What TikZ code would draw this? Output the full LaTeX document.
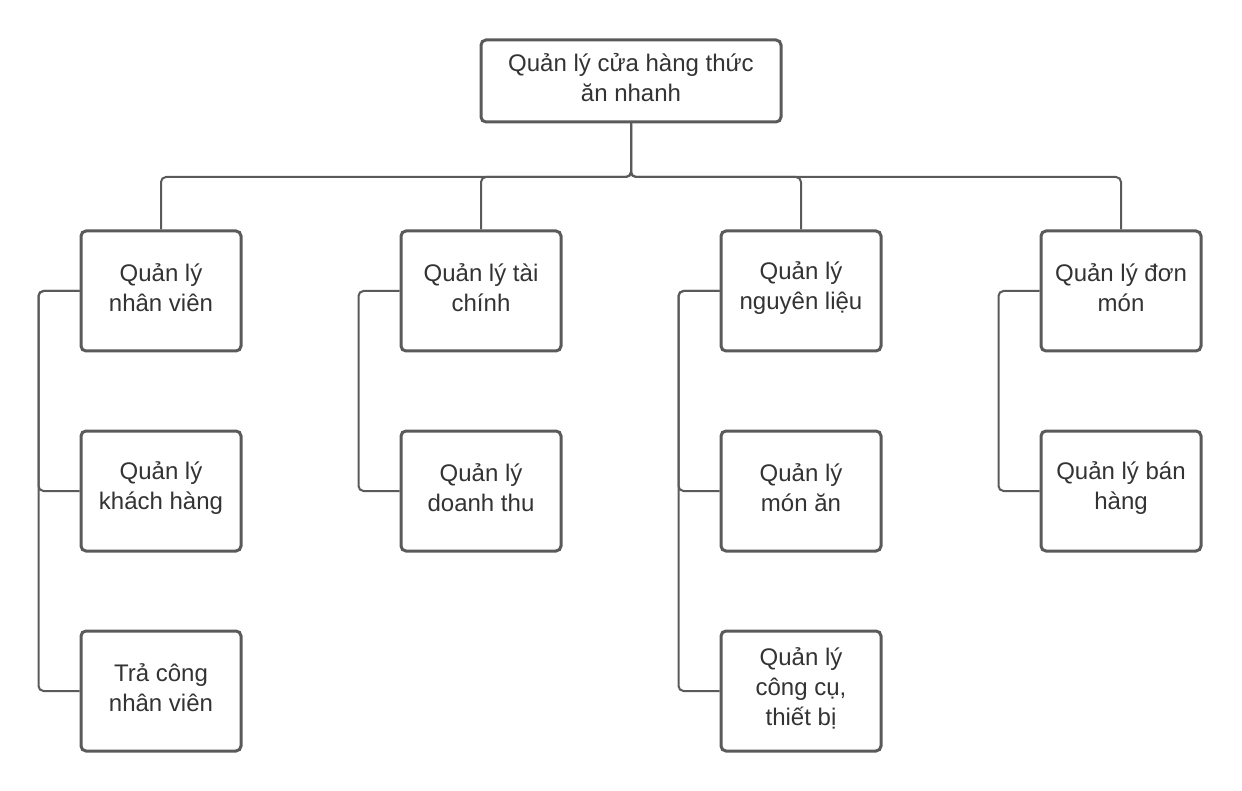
\documentclass[tikz,border=0pt]{standalone}
\usepackage{fontspec}
\setmainfont{Liberation Sans}
\definecolor{linec}{HTML}{5A5A5A}
\definecolor{textc}{HTML}{333333}
\begin{document}
\begin{tikzpicture}[x=1pt,y=-1pt,
  boxtext/.style={align=center,text=textc,font=\fontsize{24}{30}\selectfont,inner sep=0pt,yshift=3pt},
  box/.style={draw=linec,line width=3pt,rounded corners=5pt,fill=white,
    minimum width=160pt,minimum height=120pt,inner sep=0pt,
    label={[boxtext]center:#1}},
  rootbox/.style={box=#1,minimum width=300pt,minimum height=82pt},
  conn/.style={draw=linec,line width=2pt,rounded corners=5pt}]
\useasboundingbox (0,0) rectangle (1242,791);
\node[rootbox={Quản lý cửa hàng thức\\ăn nhanh}] (root) at (631,81) {};
\node[box={Quản lý\\nhân viên}] (a1) at (161,291) {};
\node[box={Quản lý\\khách hàng}] (a2) at (161,491) {};
\node[box={Trả công\\nhân viên}] (a3) at (161,691) {};
\node[box={Quản lý tài\\chính}] (b1) at (481,291) {};
\node[box={Quản lý\\doanh thu}] (b2) at (481,491) {};
\node[box={Quản lý\\nguyên liệu}] (c1) at (801,291) {};
\node[box={Quản lý\\món ăn}] (c2) at (801,491) {};
\node[box={Quản lý\\công cụ,\\thiết bị}] (c3) at (801,691) {};
\node[box={Quản lý đơn\\món}] (d1) at (1121,291) {};
\node[box={Quản lý bán\\hàng}] (d2) at (1121,491) {};
\coordinate (bus) at (631,177);
\foreach \c in {a1,b1,c1,d1}{
  \draw[conn] (root.south) -- (bus) -| (\c.north);
}
\foreach \p/\c in {a1/a2,a1/a3,b1/b2,c1/c2,c1/c3,d1/d2}{
  \draw[conn] (\p.west) -- ++(-41,0) |- (\c.west);
}
\end{tikzpicture}
\end{document}
